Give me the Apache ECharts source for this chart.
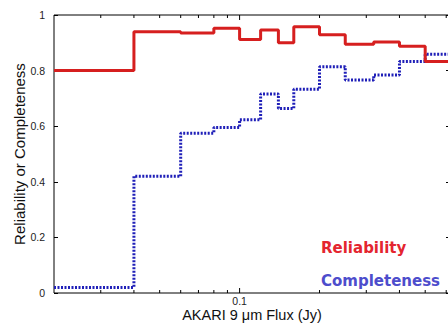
<!DOCTYPE html>
<html>
<head>
<meta charset="utf-8">
<script src="https://cdn.jsdelivr.net/npm/echarts@6/dist/echarts.min.js"></script>
<style>
html,body{margin:0;padding:0;background:#fff;}
#chart{width:448px;height:323px;}
</style>
</head>
<body>
<div id="chart"></div>
<script>
// bin edges in Jy (log axis), one value per bin
var binEdges = [0.02, 0.04, 0.06, 0.08, 0.1, 0.12, 0.14, 0.16, 0.2, 0.25, 0.32, 0.4, 0.5, 0.62];
var reliability = [0.80, 0.94, 0.935, 0.952, 0.912, 0.946, 0.90, 0.958, 0.929, 0.895, 0.903, 0.888, 0.833];
var completeness = [0.02, 0.42, 0.575, 0.595, 0.623, 0.716, 0.664, 0.733, 0.814, 0.766, 0.784, 0.833, 0.859];
var xMajorTicks = [0.1];
var xMinorTicks = [0.03, 0.04, 0.05, 0.06, 0.07, 0.08, 0.09, 0.2, 0.3, 0.4, 0.5, 0.6];

function stepData(vals) {
    var out = [];
    for (var i = 0; i < vals.length; i++) {
        out.push([binEdges[i], vals[i]]);
    }
    out.push([binEdges[vals.length], vals[vals.length - 1]]);
    return out;
}

var tickData = [];
xMajorTicks.forEach(function (v) { tickData.push([v, 1]); });
xMinorTicks.forEach(function (v) { tickData.push([v, 0]); });

var myChart = echarts.init(document.getElementById('chart'), null, {renderer: 'svg'});
var font = 'Liberation Sans, Arial, sans-serif';
option = {
    animation: false,
    grid: {
        left: 54,
        top: 15,
        right: -2,
        bottom: 30,
        outerBoundsMode: 'none',
        containLabel: false,
        show: true,
        borderColor: '#000',
        borderWidth: 1
    },
    xAxis: {
        type: 'log',
        logBase: 10,
        min: 0.02,
        max: 0.62,
        axisLine: {show: false},
        axisTick: {show: false},
        splitLine: {show: false},
        minorTick: {show: false},
        axisLabel: {
            showMinLabel: false,
            showMaxLabel: false,
            margin: 2,
            color: '#222',
            fontFamily: font,
            fontSize: 10.5,
            formatter: function (v) {
                return Math.abs(v - 0.1) < 1e-9 ? '0.1' : '';
            }
        },
        name: 'AKARI 9 \u03bcm Flux (Jy)',
        nameLocation: 'middle',
        nameGap: 14,
        nameMoveOverlap: false,
        nameTextStyle: {color: '#111', fontFamily: font, fontSize: 14.5}
    },
    yAxis: [
        {
            type: 'value',
            min: 0,
            max: 1,
            interval: 0.2,
            axisLine: {show: false},
            splitLine: {show: false},
            axisTick: {show: true, inside: true, length: 4, lineStyle: {color: '#000'}},
            axisLabel: {margin: 9, color: '#222', fontFamily: font, fontSize: 10.5},
            name: 'Reliability or Completeness',
            nameLocation: 'middle',
            nameGap: 27,
            nameMoveOverlap: false,
            nameTextStyle: {color: '#111', fontFamily: font, fontSize: 15}
        },
        {
            type: 'value',
            position: 'right',
            min: 0,
            max: 1,
            interval: 0.2,
            axisLine: {show: false},
            splitLine: {show: false},
            axisLabel: {show: false},
            axisTick: {show: true, inside: true, length: 4, lineStyle: {color: '#000'}}
        }
    ],
    series: [
        {
            type: 'custom',
            silent: true,
            clip: false,
            data: tickData,
            renderItem: function (params, api) {
                var v = api.value(0);
                var len = api.value(1) ? 5 : 3;
                var b = api.coord([v, 0]);
                var t = api.coord([v, 1]);
                return {
                    type: 'group',
                    children: [
                        {type: 'line', shape: {x1: b[0], y1: b[1], x2: b[0], y2: b[1] - len}, style: {stroke: '#000', lineWidth: 1}},
                        {type: 'line', shape: {x1: t[0], y1: t[1], x2: t[0], y2: t[1] + len}, style: {stroke: '#000', lineWidth: 1}}
                    ]
                };
            }
        },
        {
            name: 'Completeness',
            type: 'line',
            step: 'end',
            symbol: 'none',
            data: stepData(completeness),
            lineStyle: {color: '#1f1fb8', width: 3, type: [2, 1.5]}
        },
        {
            name: 'Reliability',
            type: 'line',
            step: 'end',
            symbol: 'none',
            data: stepData(reliability),
            lineStyle: {color: '#d61f1f', width: 3}
        }
    ],
    graphic: [
        {
            type: 'text',
            left: 321,
            top: 240,
            style: {text: 'Reliability', fill: '#e4252f', font: 'bold 15px "DejaVu Sans", sans-serif'}
        },
        {
            type: 'text',
            left: 321,
            top: 273,
            style: {text: 'Completeness', fill: '#4d4dcc', font: 'bold 15px "DejaVu Sans", sans-serif'}
        }
    ]
};
myChart.setOption(option, true);
</script>
</body>
</html>
